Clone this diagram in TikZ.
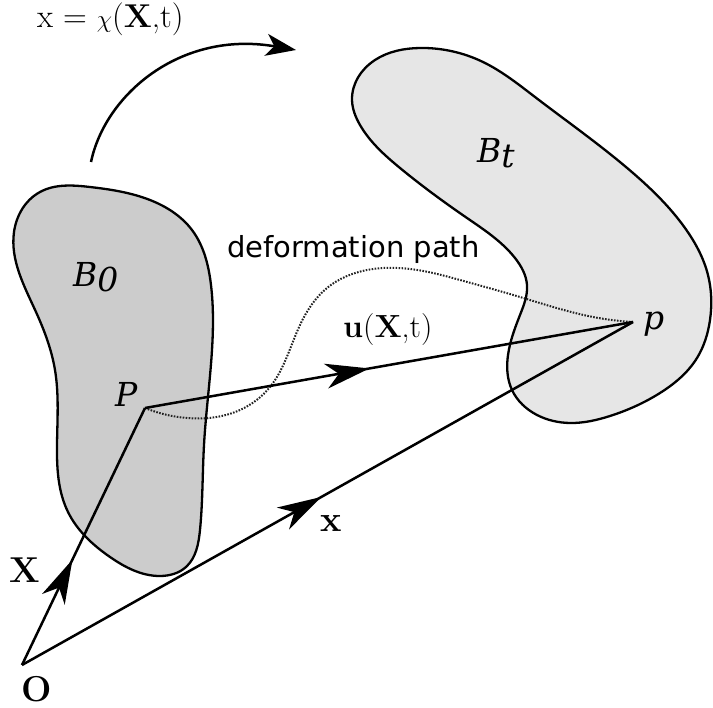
\documentclass[tikz,border=0pt]{standalone}
\usepackage{fontspec}
\newfontfamily\dvsans{DejaVu Sans}
\newfontfamily\dvserif{DejaVu Serif}
\usetikzlibrary{arrows.meta,decorations.markings,hobby}
\definecolor{bodyzero}{HTML}{CCCCCC}
\definecolor{bodyt}{HTML}{E6E6E6}
\definecolor{dotgray}{HTML}{222222}
\tikzset{
  lbl/.style={inner sep=0pt, anchor=base west},
  vec/.style={line width=2.5pt, line join=round},
  outline/.style={line width=2.3pt, draw=black},
  bigtip/.tip={Stealth[length=44pt,width=25pt,inset=13pt]},
  toptip/.tip={Stealth[length=30pt,width=22pt,inset=8pt]},
  midarrow/.style={postaction={decorate}, decoration={markings,
     mark=at position #1 with {\arrow{bigtip}}}},
  pathdots/.style={line width=2pt, dotgray, dash pattern=on 1.6pt off 1.4pt},
  italab/.style={lbl, font=\dvserif\itshape\fontsize{33}{36}\selectfont},
  boldlab/.style={inner sep=0pt, anchor=base, font=\fontsize{36}{40}\selectfont\bfseries},
}
\begin{document}
\begin{tikzpicture}[x=1pt,y=-1pt]
\useasboundingbox (0,0) rectangle (713,708);
% bodies
\filldraw[outline, fill=bodyzero, use Hobby shortcut, closed=true]
 (14,232) .. (40,192) .. (90,187) .. (150,200) .. (192,230) .. (211,285) .. (212,350)
 .. (204,445) .. (200,530) .. (186,567) .. (160,576) .. (110,557) .. (68,512)
 .. (57,445) .. (55,370) .. (36,312);
\filldraw[outline, fill=bodyt, use Hobby shortcut, closed=true]
 (352,100) .. (375,60) .. (420,48) .. (483,62) .. (535,97) .. (633,173) .. (685,228)
 .. (708,275) .. (710,320) .. (697,358) .. (660,393) .. (610,416) .. (570,423)
 .. (537,415) .. (512,390) .. (508,355) .. (520,315) .. (527,285) .. (515,258)
 .. (467,218) .. (400,168) .. (360,125);
% points
\coordinate (O) at (22,665);
\coordinate (P) at (145,408);
\coordinate (p) at (633,322);
\coordinate (cs) at (91,162);
\coordinate (ce) at (296,50);
% deformation path
\draw[pathdots, use Hobby shortcut]
 (145,408) .. (187,418) .. (240,410) .. (270,387) .. (300,325) .. (327,288) .. (367,270)
 .. (433,273) .. (460,280) .. (520,297) .. (593,317) .. (633,322);
% vectors
\draw[vec, midarrow=0.41] (O) -- (P);
\draw[vec, midarrow=0.49] (O) -- (p);
\draw[vec, midarrow=0.46] (P) -- (p);
\draw[vec, -toptip] (cs) .. controls (105,95) and (180,30) .. (ce);
% labels
\node[lbl, font=\fontsize{33}{36}\selectfont] (chi) at (37,28) {x = $\chi$(\textbf{X},t)};
\node[lbl, font=\dvsans\fontsize{29}{32}\selectfont] (dp) at (227,258) {deformation path};
\node[lbl, font=\fontsize{32}{35}\selectfont] (ulab) at (343,338) {\textbf{u}(\textbf{X},t)};
\node[italab] (b0) at (73,287) {B\raisebox{-5pt}{0}};
\node[italab] (bt) at (477,163) {B\raisebox{-5pt}{t}};
\node[italab] (Plab) at (115,407) {P};
\node[italab] (plab) at (643,330) {p};
\node[boldlab] (Olab) at (37,702) {O};
\node[boldlab] (Xlab) at (25,583) {X};
\node[boldlab] (xlab) at (331,532) {x};
\end{tikzpicture}
\end{document}
